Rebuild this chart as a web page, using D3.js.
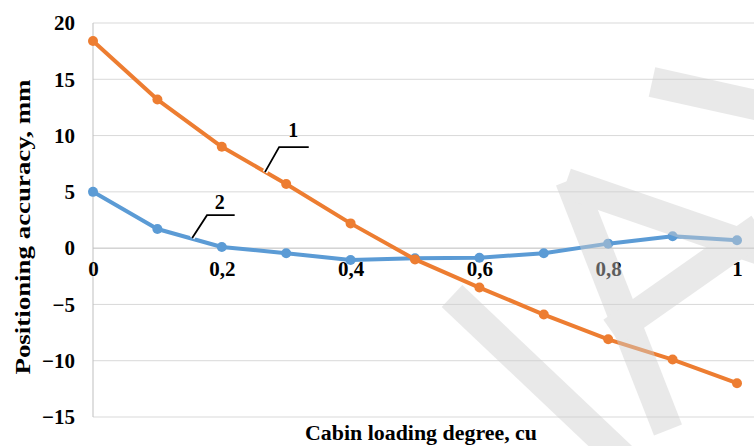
<!DOCTYPE html>
<html>
<head>
<meta charset="utf-8">
<script src="https://cdn.jsdelivr.net/npm/d3@7"></script>
<style>
  html, body { margin: 0; padding: 0; background: #fff; }
  svg { display: block; }
  text { font-family: "Liberation Serif", "Times New Roman", Times, "DejaVu Serif", serif; font-weight: bold; fill: #000; }
</style>
</head>
<body>
<div id="chart"></div>
<script>
// loading degree (cu) and the two measured curves (mm)
const loading = [0, 0.1, 0.2, 0.3, 0.4, 0.5, 0.6, 0.7, 0.8, 0.9, 1];
const curve1 = [18.4, 13.2, 9.0, 5.7, 2.2, -1.0, -3.5, -5.9, -8.1, -9.9, -12.0];
const curve2 = [5.0, 1.7, 0.1, -0.45, -1.05, -0.9, -0.85, -0.45, 0.4, 1.05, 0.7];
const yTicks = [-15, -10, -5, 0, 5, 10, 15, 20];
const xTicks = [0, 0.2, 0.4, 0.6, 0.8, 1];
const xTickLabels = ['0', '0,2', '0,4', '0,6', '0,8', '1'];

// curve labels: pointer end, elbow, line end, text
const callouts = [
  { name: '1', tip: [0.267, 6.75], elbow: [0.289, 8.97], end: [0.335, 8.97], text: [0.311, 9.9] },
  { name: '2', tip: [0.154, 0.9], elbow: [0.177, 2.93], end: [0.22, 2.93], text: [0.197, 3.5] }
];

const width = 754, height = 446;
const margin = { top: 23, right: 17, bottom: 29, left: 93 };
const serif = '"Liberation Serif", "Times New Roman", Times, "DejaVu Serif", serif';

const svg = d3.select('#chart').append('svg')
  .attr('width', width)
  .attr('height', height);

const x = d3.scaleLinear().domain([0, 1]).range([margin.left, width - margin.right]);
const y = d3.scaleLinear().domain([-15, 20]).range([height - margin.bottom, margin.top]);

// horizontal gridlines
svg.append('g')
  .selectAll('line')
  .data(yTicks)
  .enter().append('line')
    .attr('x1', margin.left)
    .attr('x2', width)
    .attr('y1', d => y(d))
    .attr('y2', d => y(d))
    .attr('stroke', d => d === 0 ? '#bdbdbd' : '#d9d9d9')
    .attr('stroke-width', 1);

// vertical axis line
svg.append('line')
  .attr('x1', x(0)).attr('x2', x(0))
  .attr('y1', y(20)).attr('y2', y(-15))
  .attr('stroke', '#bfbfbf');

// y axis tick labels
const yAxis = d3.axisLeft(y).tickValues(yTicks).tickSize(0).tickPadding(18);
svg.append('g')
  .attr('transform', `translate(${margin.left},0)`)
  .call(yAxis)
  .attr('font-family', serif)
  .call(g => g.select('.domain').remove())
  .selectAll('text')
    .style('font-size', '21px')
    .style('font-family', serif)
    .style('font-weight', 'bold')
    .attr('fill', '#000');

// x axis tick labels sit just under the zero line
const xAxis = d3.axisBottom(x).tickValues(xTicks).tickFormat((d, i) => xTickLabels[i]).tickSize(0).tickPadding(13);
svg.append('g')
  .attr('transform', `translate(0,${y(0)})`)
  .call(xAxis)
  .attr('font-family', serif)
  .call(g => g.select('.domain').remove())
  .selectAll('text')
    .style('font-size', '21px')
    .style('font-family', serif)
    .style('font-weight', 'bold')
    .attr('fill', '#000');

// axis titles (stretched a bit like the original scan)
svg.append('text')
  .attr('x', 421)
  .attr('y', 440)
  .attr('text-anchor', 'middle')
  .attr('textLength', 232)
  .attr('lengthAdjust', 'spacingAndGlyphs')
  .style('font-family', serif)
  .style('font-size', '20px')
  .text('Cabin loading degree, cu');

svg.append('text')
  .attr('transform', `translate(30,${227}) rotate(-90)`)
  .attr('text-anchor', 'middle')
  .attr('textLength', 295)
  .attr('lengthAdjust', 'spacingAndGlyphs')
  .style('font-family', serif)
  .style('font-size', '20px')
  .text('Positioning accuracy, mm');

// series
const series = [
  { values: curve2, color: '#5B9BD5' },
  { values: curve1, color: '#ED7D31' }
];
const line = d3.line().x(d => x(d[0])).y(d => y(d[1]));

series.forEach(s => {
  const pts = loading.map((l, i) => [l, s.values[i]]);
  svg.append('path')
    .datum(pts)
    .attr('d', line)
    .attr('fill', 'none')
    .attr('stroke', s.color)
    .attr('stroke-width', 4)
    .attr('stroke-linejoin', 'round');
  svg.append('g')
    .selectAll('circle')
    .data(pts)
    .enter().append('circle')
      .attr('cx', d => x(d[0]))
      .attr('cy', d => y(d[1]))
      .attr('r', 5)
      .attr('fill', s.color);
});

// callouts for curve numbers
callouts.forEach(c => {
  const pts = [c.tip, c.elbow, c.end].map(p => [x(p[0]), y(p[1])]);
  svg.append('path')
    .attr('d', d3.line()(pts))
    .attr('fill', 'none')
    .attr('stroke', '#fff')
    .attr('stroke-width', 5);
  svg.append('path')
    .attr('d', d3.line()(pts))
    .attr('fill', 'none')
    .attr('stroke', '#000')
    .attr('stroke-width', 1.8);
  svg.append('text')
    .attr('x', x(c.text[0]))
    .attr('y', y(c.text[1]))
    .attr('text-anchor', 'middle')
    .style('font-family', serif)
    .style('font-size', '20px')
    .text(c.name);
});

// faint watermark bands over the chart (group opacity so overlaps stay even)
const wm = svg.append('g')
  .attr('opacity', 0.45)
  .attr('stroke', '#cfcfcf')
  .attr('stroke-linecap', 'butt')
  .attr('fill', 'none');
[
  [[452, 296], [625, 460]],
  [[570, 180], [668, 430]],
  [[566, 183], [760, 250]],
  [[652, 82], [760, 106]],
  [[612, 332], [760, 228]]
].forEach(b => wm.append('line')
  .attr('x1', b[0][0]).attr('y1', b[0][1]).attr('x2', b[1][0]).attr('y2', b[1][1])
  .attr('stroke-width', 30));
</script>
</body>
</html>
